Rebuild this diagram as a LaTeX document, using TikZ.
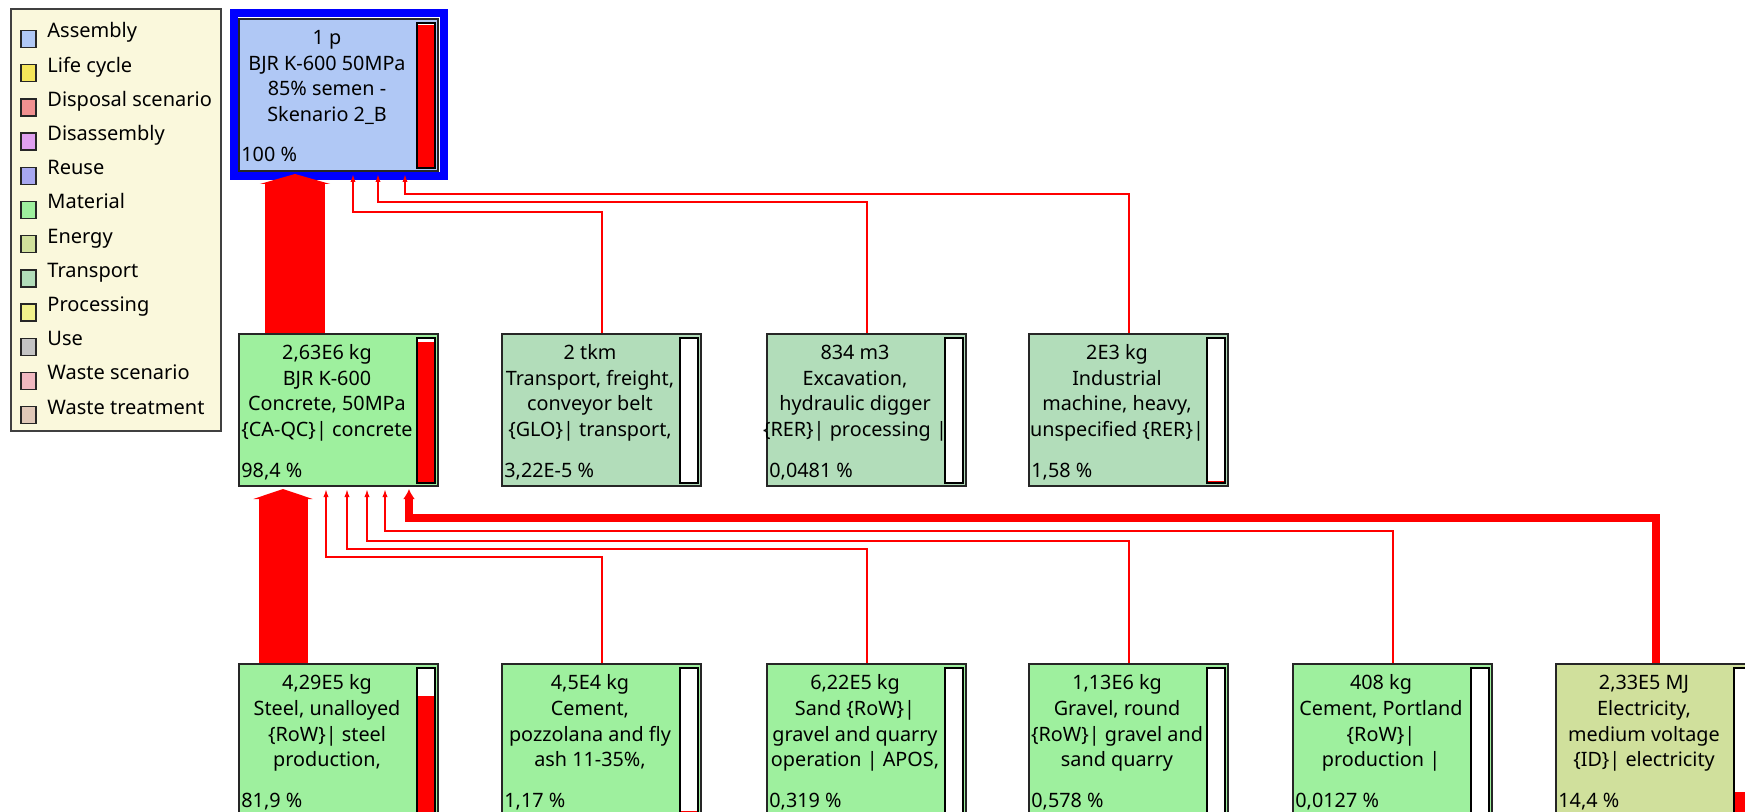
\documentclass[tikz,border=0pt]{standalone}
\usepackage{fontspec}
\setmainfont{Noto Sans}
\usetikzlibrary{arrows.meta}
\definecolor{assy}{HTML}{B0C8F5}
\definecolor{lifecyc}{HTML}{F5E65A}
\definecolor{disposal}{HTML}{F09090}
\definecolor{disassy}{HTML}{E0A0F0}
\definecolor{reuse}{HTML}{A8A8F0}
\definecolor{material}{HTML}{9EF09E}
\definecolor{energy}{HTML}{D0E09C}
\definecolor{transp}{HTML}{B2DDBA}
\definecolor{processing}{HTML}{F2F28C}
\definecolor{usecol}{HTML}{C4C4C4}
\definecolor{wastescen}{HTML}{F0B8C0}
\definecolor{wastetreat}{HTML}{E0C8B8}
\definecolor{legendbg}{HTML}{FAF8DC}
\newcommand{\procbox}[7]{
	\node[procbox, fill=#4] (#1) at (#2,#3) {};
	\node[boxtext] (#1-txt) at ([shift={(89,6)}]#1.north west) {\rule{0pt}{10pt}#5};
	\node[pcttext] (#1-pct) at ([shift={(3,144)}]#1.north west) {#6};
	\fill[white] ([shift={(-22,5)}]#1.north east) rectangle ([shift={(-4,-4)}]#1.south east);
	\fill[red] ([shift={(-22,-4)}]#1.south east) rectangle ++(18,-#7*1.43);
	\draw[line width=1pt] ([shift={(-22,5)}]#1.north east) rectangle ([shift={(-4,-4)}]#1.south east);
}
\tikzset{
	procbox/.style = {draw=black!85, line width=1pt, minimum width=99.5pt, minimum height=76pt, inner sep=0pt, anchor=north west},
	boxtext/.style = {anchor=north, inner sep=0pt, align=center, font=\fontsize{9.9}{12.9}\selectfont},
	pcttext/.style = {anchor=base west, inner sep=0pt, font=\fontsize{9.9}{12.9}\selectfont},
	legendbox/.style = {anchor=north west, fill=legendbg, draw=black!75, line width=1pt, minimum width=105pt, minimum height=211pt, inner sep=0pt},
	legendkey/.style = {draw=black!85, line width=0.7pt, minimum width=7.5pt, minimum height=8.5pt, inner sep=0pt},
	legendlbl/.style = {anchor=base west, inner sep=0pt, font=\fontsize{10}{12}\selectfont},
	flow/.style = {draw=red, line width=1pt, -{Latex[length=4pt,width=2.6pt]}},
	heavyflow/.style = {draw=red, line width=4pt, -{Latex[length=5pt,width=6pt]}},
	bigflow/.style = {draw=red, -{Triangle[length=5pt,width=#1]}},
}

\begin{document}
\begin{tikzpicture}[x=0.5pt, y=-0.5pt]
	\useasboundingbox (0,0) rectangle (1745,812);
	\node[legendbox] (legend) at (10,8) {};
	\foreach \lbl/\col [count=\i from 0] in {Assembly/assy, Life cycle/lifecyc, Disposal scenario/disposal, Disassembly/disassy, Reuse/reuse, Material/material, Energy/energy, Transport/transp, Processing/processing, Use/usecol, Waste scenario/wastescen, Waste treatment/wastetreat}
		\node[legendkey, fill=\col] (key\i) at (28.5,{39+34.2*\i}) {}
			node[legendlbl] (lbl\i) at (47,{38+34.2*\i}) {\lbl};

	\procbox{top}{238}{18}{assy}{1 p\\BJR K-600 50MPa\\85\% semen -\\Skenario 2\_B}{100 \%}{100}
	\draw[blue, line width=4pt] ([shift={(-4.5,4.5)}]top.south west) rectangle ([shift={(4.5,-4.5)}]top.north east);

	\procbox{concrete}{238}{333}{material}{2,63E6 kg\\BJR K-600\\Concrete, 50MPa\\\{CA-QC\}| concrete}{98,4 \%}{98.4}
	\procbox{transport}{501}{333}{transp}{2 tkm\\Transport, freight,\\conveyor belt\\\{GLO\}| transport,}{3,22E-5 \%}{0}
	\procbox{excavation}{766}{333}{transp}{834 m3\\Excavation,\\hydraulic digger\\\{RER\}| processing |}{0,0481 \%}{0.0481}
	\procbox{industrial}{1028}{333}{transp}{2E3 kg\\Industrial\\machine, heavy,\\unspecified \{RER\}|}{1,58 \%}{1.58}

	\procbox{steel}{238}{663}{material}{4,29E5 kg\\Steel, unalloyed\\\{RoW\}| steel\\production,}{81,9 \%}{81.9}
	\procbox{cement}{501}{663}{material}{4,5E4 kg\\Cement,\\pozzolana and fly\\ash 11-35\%,}{1,17 \%}{1.17}
	\procbox{sand}{766}{663}{material}{6,22E5 kg\\Sand \{RoW\}|\\gravel and quarry\\operation | APOS,}{0,319 \%}{0.319}
	\procbox{gravel}{1028}{663}{material}{1,13E6 kg\\Gravel, round\\\{RoW\}| gravel and\\sand quarry}{0,578 \%}{0.578}
	\procbox{portland}{1292}{663}{material}{408 kg\\Cement, Portland\\\{RoW\}|\\production |}{0,0127 \%}{0.0127}
	\procbox{electricity}{1555}{663}{energy}{2,33E5 MJ\\Electricity,\\medium voltage\\\{ID\}| electricity}{14,4 \%}{14.4}

	\draw[bigflow=35pt, line width=30pt] ([shift={(57,0)}]concrete.north west) -- ([shift={(57,2)}]top.south west);
	\draw[flow] (transport.north) -- ++(0,-121) -| ([shift={(115,2)}]top.south west);
	\draw[flow] (excavation.north) -- ++(0,-131) -| ([shift={(140,2)}]top.south west);
	\draw[flow] (industrial.north) -- ++(0,-139) -| ([shift={(167,2)}]top.south west);

	\draw[bigflow=29.5pt, line width=24.5pt] ([shift={(45,0)}]steel.north west) -- ([shift={(45,2)}]concrete.south west);
	\draw[flow] (cement.north) -- ++(0,-106) -| ([shift={(88,2)}]concrete.south west);
	\draw[flow] (sand.north) -- ++(0,-114) -| ([shift={(109,2)}]concrete.south west);
	\draw[flow] (gravel.north) -- ++(0,-122) -| ([shift={(129,2)}]concrete.south west);
	\draw[flow] (portland.north) -- ++(0,-132) -| ([shift={(147,2)}]concrete.south west);
	\draw[heavyflow] (electricity.north) -- ++(0,-145) -| ([shift={(171,2)}]concrete.south west);
\end{tikzpicture}
\end{document}
